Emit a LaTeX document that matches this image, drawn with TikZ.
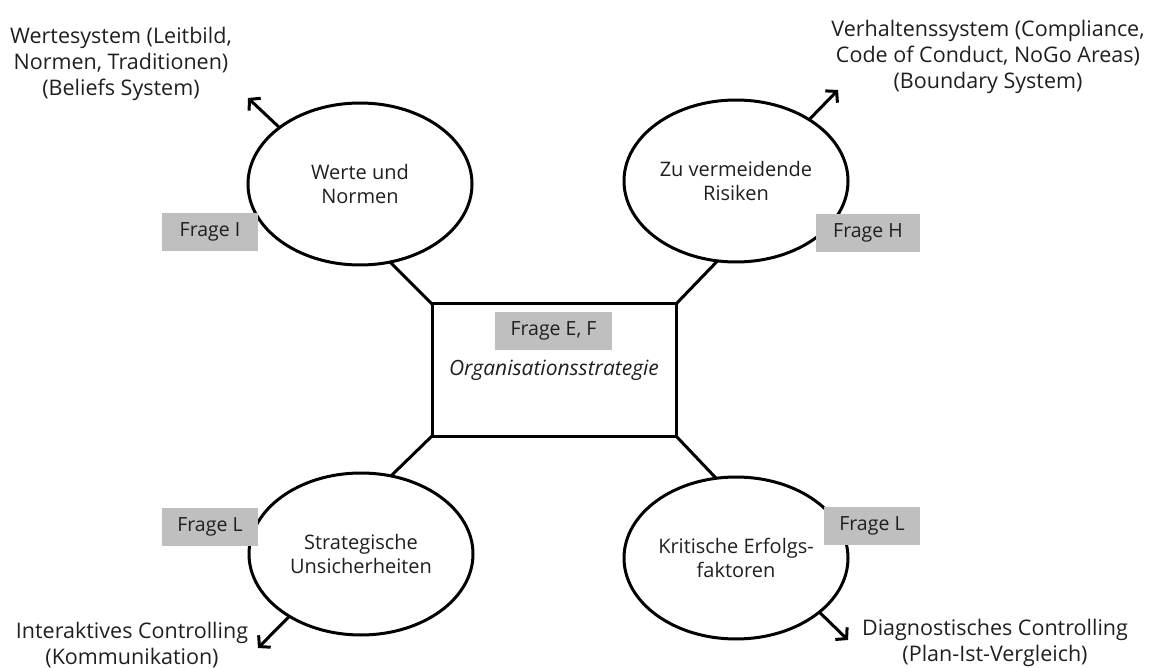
\documentclass[tikz,border=0pt]{standalone}
\usepackage{fontspec}
\setmainfont{Open Sans}
\usetikzlibrary{shapes.geometric,arrows.meta}
\begin{document}
\begin{tikzpicture}[x=1pt,y=-1pt,
  every node/.style={text=black!88},
  bubble/.style={ellipse,draw=black,line width=3pt,minimum width=224pt,minimum height=162pt,inner sep=0pt,outer sep=0pt,align=center,font=\fontsize{20}{23.5}\selectfont},
  corebox/.style={rectangle,draw=black,line width=3pt,minimum width=244pt,minimum height=132pt,inner sep=0pt,outer sep=0pt,font=\fontsize{21}{24}\selectfont\itshape},
  frage/.style={fill=black!25,minimum height=38pt,inner sep=0pt,font=\fontsize{19.5}{23.5}\selectfont},
  note/.style={align=center,font=\fontsize{21.5}{25.8}\selectfont,inner sep=0pt},
  link/.style={draw=black,line width=3pt},
  arr/.style={draw=black,line width=3pt,-{Straight Barb[length=7.5pt,width=17pt]}}
]
\useasboundingbox (0,0) rectangle (1149,668);

% central box
\node[corebox] (core) at (554,370) {Organisationsstrategie};

% ellipses
\node[bubble] (wn) at (360,184) {Werte und\\Normen};
\node[bubble] (zr) at (736,181) {Zu vermeidende\\Risiken};
\node[bubble] (su) at (361,554) {Strategische\\Unsicherheiten};
\node[bubble] (ke) at (736,558) {Kritische Erfolgs-\\faktoren};

% links to the central box
\draw[link] (core.north west) -- (wn.-69);
\draw[link] (core.north east) -- (zr.-103);
\draw[link] (core.south west) -- (su.69);
\draw[link] (core.south east) -- (ke.104);

% outer texts
\node[note] (tlt) at (121,64) {Wertesystem (Leitbild,\\Normen, Traditionen)\\(Beliefs System)};
\node[note] (trt) at (988,57) {Verhaltenssystem (Compliance,\\Code of Conduct, NoGo Areas)\\(Boundary System)};
\node[note] (blt) at (132,645) {Interaktives Controlling\\(Kommunikation)};
\node[note] (brt) at (995,643) {Diagnostisches Controlling\\(Plan-Ist-Vergleich)};

% arrow tips
\coordinate (tltip) at (248,98);
\coordinate (trtip) at (838,90);
\coordinate (bltip) at (258,648);
\coordinate (brtip) at (848,640);

\draw[arr] (wn.145.5) -- (tltip);
\draw[arr] (zr.40) -- (trtip);
\draw[arr] (su.221) -- (bltip);
\draw[arr] (ke.-33) -- (brtip);

% question boxes
\node[frage,minimum width=96pt] (fi) at (210,232) {Frage I};
\node[frage,minimum width=104pt] (fh) at (868,233) {Frage H};
\node[frage,minimum width=96pt] (fl1) at (210,527) {Frage L};
\node[frage,minimum width=96pt] (fl2) at (872,526) {Frage L};
\node[frage,minimum width=117pt] (fef) at (553.5,331) {Frage E, F};
\end{tikzpicture}
\end{document}
